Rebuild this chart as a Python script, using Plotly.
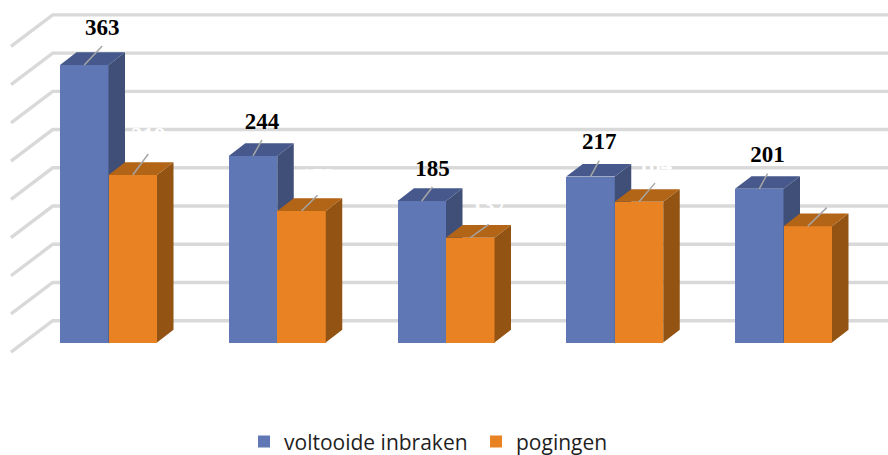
import plotly.graph_objects as go

# ---- data ----
groups = [0, 1, 2, 3, 4]
voltooide_inbraken = [363, 244, 185, 217, 201]
pogingen = [219, 172, 137, 184, 152]
series_names = ["voltooide inbraken", "pogingen"]
grid_values = [0, 50, 100, 150, 200, 250, 300, 350, 400]

# ---- geometry: pixel scale of the two axes ----
W, H = 888, 455
PX_PER_GROUP = 168.75
PX_PER_UNIT = 0.7645
ORIGIN_X = 108.5   # pixel of group 0 centre
ORIGIN_Y = 342.5   # pixel of value 0 at bar front


def ux(px):
    return px / PX_PER_GROUP


def uy(px):
    return px / PX_PER_UNIT


BAR_W = ux(48.5)
DEPTH_X, DEPTH_Y = ux(16.5), uy(12.7)
X_RANGE = [ux(-ORIGIN_X), ux(W - ORIGIN_X)]
Y_RANGE = [uy(ORIGIN_Y - H), uy(ORIGIN_Y)]

# back wall and left wall, relative to the bar front plane
WALL_X0 = ux(52.7 - ORIGIN_X)
WALL_Y0 = uy(342.5 - 320.7)
SIDE_X0 = ux(11 - ORIGIN_X)
SIDE_Y0 = uy(342.5 - 352.2)

BLUE = dict(front="#6077B5", side="#3F4F78", top="#47598C")
ORANGE = dict(front="#E98223", side="#935312", top="#B26417")
GRID = "#D9D9D9"
LEADER = "#A6A6A6"

# leader line tips, pixels from the centre of the bar's top edge
LEADER_BLUE = [(18, -19), (9, -16), (10.7, -14), (8.7, -16), (8.3, -15.3)]
LEADER_ORANGE = [(15.5, -21), (16, -15.7), (18.4, -13.4), (16, -18.7), (19, -18.7)]
LABEL_GAP = 17


def faces(xs, vals):
    side_x, side_y, top_x, top_y = [], [], [], []
    for x, v in zip(xs, vals):
        x0, x1 = x - BAR_W / 2, x + BAR_W / 2
        side_x += [x1, x1 + DEPTH_X, x1 + DEPTH_X, x1, x1, None]
        side_y += [0, DEPTH_Y, v + DEPTH_Y, v, 0, None]
        top_x += [x0, x1, x1 + DEPTH_X, x0 + DEPTH_X, x0, None]
        top_y += [v, v, v + DEPTH_Y, v + DEPTH_Y, v, None]
    return side_x, side_y, top_x, top_y


def poly(x, y, color, xa, ya):
    return go.Scatter(x=x, y=y, mode="lines", fill="toself", fillcolor=color,
                      line=dict(width=0, color=color), showlegend=False,
                      hoverinfo="skip", xaxis=xa, yaxis=ya)


fig = go.Figure()

# grid: left wall + back wall, in the lowest subplot
gx, gy = [], []
for g in grid_values:
    gx += [SIDE_X0, WALL_X0, X_RANGE[1], None]
    gy += [g + SIDE_Y0, g + WALL_Y0, g + WALL_Y0, None]
fig.add_trace(go.Scatter(x=gx, y=gy, mode="lines", line=dict(color=GRID, width=3.4),
                         showlegend=False, hoverinfo="skip"))


def add_series(name, xs, vals, col, xa, ya):
    fig.add_trace(go.Bar(x=xs, y=vals, width=BAR_W, name=name, marker=dict(color=col["front"], line_width=0),
                         xaxis=xa, yaxis=ya))
    sx, sy, tx, ty = faces(xs, vals)
    fig.add_trace(poly(sx, sy, col["side"], xa, ya))
    fig.add_trace(poly(tx, ty, col["top"], xa, ya))


blue_x = [g - BAR_W / 2 for g in groups]
orange_x = [g + BAR_W / 2 for g in groups]
add_series(series_names[0], blue_x, voltooide_inbraken, BLUE, "x2", "y2")
add_series(series_names[1], orange_x, pogingen, ORANGE, "x3", "y3")


def add_labels(xs, vals, tips, color):
    lx, ly, tx, ty = [], [], [], []
    for x, v, (dx, dy) in zip(xs, vals, tips):
        x1, y1 = x + ux(dx), v - uy(dy)
        lx += [x, x1, None]
        ly += [v, y1, None]
        tx.append(x1)
        ty.append(y1 + uy(LABEL_GAP))
    fig.add_trace(go.Scatter(x=lx, y=ly, mode="lines", line=dict(color=LEADER, width=1.5),
                             showlegend=False, hoverinfo="skip", xaxis="x3", yaxis="y3"))
    fig.add_trace(go.Scatter(x=tx, y=ty, mode="text", text=[str(v) for v in vals],
                             textposition="middle center",
                             textfont=dict(family="Liberation Serif", size=23, color=color, weight="bold"),
                             showlegend=False, hoverinfo="skip", xaxis="x3", yaxis="y3"))


add_labels(blue_x, voltooide_inbraken, LEADER_BLUE, "#000000")
add_labels(orange_x, pogingen, LEADER_ORANGE, "#FFFFFF")

axis = dict(visible=False, fixedrange=True)
fig.update_layout(
    width=W, height=H,
    margin=dict(l=0, r=0, t=0, b=0, autoexpand=False),
    paper_bgcolor="white", plot_bgcolor="white",
    barmode="overlay", bargap=0,
    xaxis=dict(range=X_RANGE, domain=[0, 1], **axis),
    yaxis=dict(range=Y_RANGE, domain=[0, 1], **axis),
    xaxis2=dict(range=X_RANGE, overlaying="x", **axis),
    yaxis2=dict(range=Y_RANGE, overlaying="y", **axis),
    xaxis3=dict(range=X_RANGE, overlaying="x", **axis),
    yaxis3=dict(range=Y_RANGE, overlaying="y", **axis),
    legend=dict(orientation="h", x=0.2748, xanchor="left", y=-0.016, yanchor="bottom",
                entrywidth=187, entrywidthmode="pixels",
                font=dict(family="Open Sans", size=21, color="#1F1F1F"),
                bgcolor="rgba(0,0,0,0)"),
    showlegend=True,
)

fig.write_html("out.html", config={"displayModeBar": False},
               post_script="document.body.style.margin='0';")
